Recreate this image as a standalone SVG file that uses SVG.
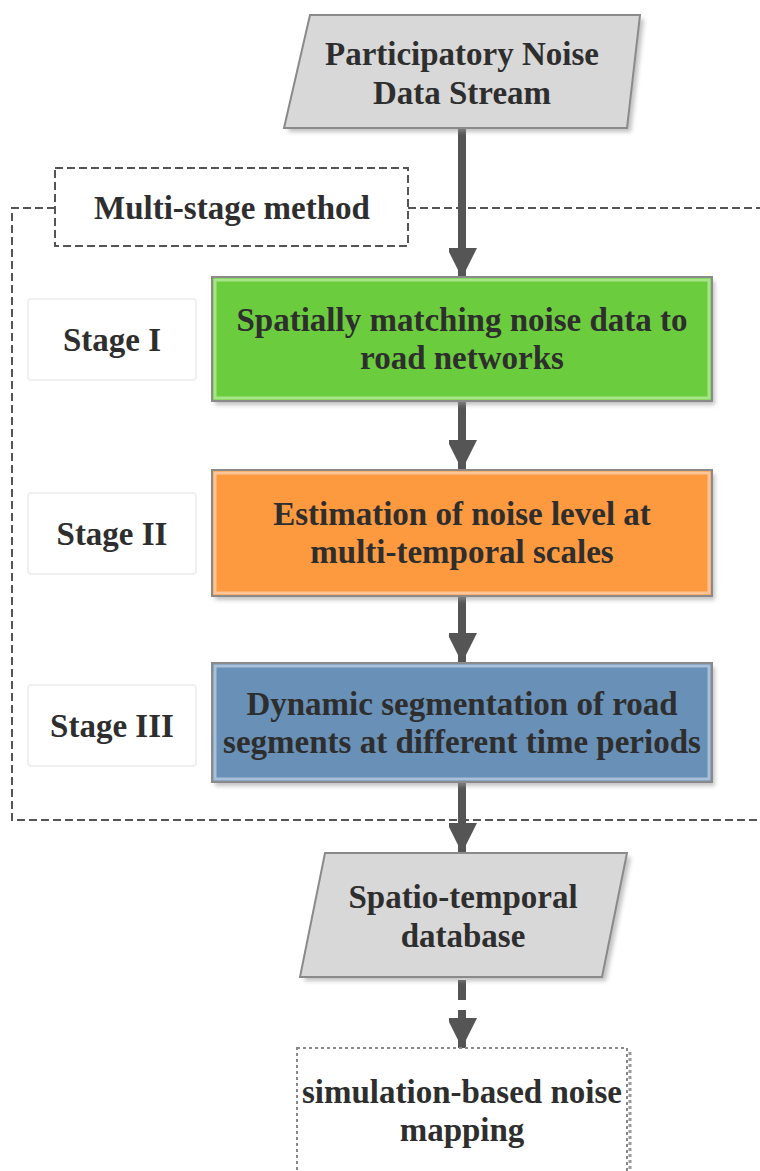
<svg xmlns="http://www.w3.org/2000/svg" width="760" height="1171" viewBox="0 0 760 1171">
<defs>
<style>
.t{font-family:"Liberation Serif","Times New Roman",serif;font-weight:bold;font-size:33px;fill:#2e2e2e;text-anchor:middle}
.conn{stroke:#555;stroke-width:8;fill:none}
.frame{stroke:#555;stroke-width:2;fill:none;stroke-dasharray:8,4}
.shadow{fill:#9a9a9a;opacity:0.6}
.stage{fill:#fff;stroke:#f0f0f0;stroke-width:2}
</style>
<marker id="ah" markerUnits="userSpaceOnUse" markerWidth="32" markerHeight="28" refX="30" refY="15" orient="auto">
<path d="M0,0 L30,15 L0,30 Z" fill="#555"/>
</marker>
<filter id="blur" x="-10%" y="-10%" width="120%" height="130%"><feGaussianBlur stdDeviation="2"/></filter>
</defs>

<g id="connectors">
<path class="frame" d="M55,208 H12 V820 H760 M408,208 H760"/>
<line class="conn" x1="462" y1="128" x2="462" y2="278" marker-end="url(#ah)"/>
<line class="conn" x1="462" y1="402" x2="462" y2="470" marker-end="url(#ah)"/>
<line class="conn" x1="462" y1="596" x2="462" y2="663" marker-end="url(#ah)"/>
<line class="conn" x1="462" y1="782" x2="462" y2="853" marker-end="url(#ah)"/>
<line class="conn" x1="462" y1="980" x2="462" y2="1048" stroke-dasharray="20,10" marker-end="url(#ah)"/>
</g>

<g id="input">
<polygon points="313,19 644,19 631,132 288,132" class="shadow" filter="url(#blur)"/>
<polygon points="310,15 640,15 627,128 284,128" fill="#d8d8d8" stroke="#8a8a8a" stroke-width="2"/>
<text class="t" x="462" y="65">Participatory Noise</text>
<text class="t" x="462" y="104">Data Stream</text>
</g>

<g id="method-label">
<rect x="55" y="168" width="353" height="78" fill="#fff" stroke="#555" stroke-width="2" stroke-dasharray="8,4"/>
<text class="t" x="232" y="219">Multi-stage method</text>
</g>

<g id="stage1-label">
<rect class="stage" x="28" y="299" width="168" height="81" rx="3"/>
<text class="t" x="112" y="351">Stage I</text>
</g>
<g id="stage2-label">
<rect class="stage" x="28" y="493" width="168" height="81" rx="3"/>
<text class="t" x="112" y="545">Stage II</text>
</g>
<g id="stage3-label">
<rect class="stage" x="28" y="685" width="168" height="81" rx="3"/>
<text class="t" x="112" y="737">Stage III</text>
</g>

<g id="stage1">
<rect x="215" y="281" width="500" height="124" class="shadow" filter="url(#blur)"/>
<rect x="212" y="277" width="500" height="124" fill="#6bcd3d" stroke="#8a8a8a" stroke-width="2"/>
<rect x="215" y="280" width="494" height="118" fill="none" stroke="#a8e58a" stroke-width="3"/>
<text class="t" x="462" y="331">Spatially matching noise data to</text>
<text class="t" x="462" y="369">road networks</text>
</g>

<g id="stage2">
<rect x="215" y="474" width="500" height="126" class="shadow" filter="url(#blur)"/>
<rect x="212" y="470" width="500" height="126" fill="#fd9a3f" stroke="#8a8a8a" stroke-width="2"/>
<rect x="215" y="473" width="494" height="120" fill="none" stroke="#fec59a" stroke-width="3"/>
<text class="t" x="462" y="525">Estimation of noise level at</text>
<text class="t" x="462" y="563">multi-temporal scales</text>
</g>

<g id="stage3">
<rect x="215" y="667" width="500" height="119" class="shadow" filter="url(#blur)"/>
<rect x="212" y="663" width="500" height="119" fill="#6990b6" stroke="#8a8a8a" stroke-width="2"/>
<rect x="215" y="666" width="494" height="113" fill="none" stroke="#a9c0d8" stroke-width="3"/>
<text class="t" x="462" y="715">Dynamic segmentation of road</text>
<text class="t" x="462" y="753">segments at different time periods</text>
</g>

<g id="database">
<polygon points="328,857 631,857 606,981 304,981" class="shadow" filter="url(#blur)"/>
<polygon points="325,853 627,853 602,977 300,977" fill="#d8d8d8" stroke="#8a8a8a" stroke-width="2"/>
<text class="t" x="463" y="908">Spatio-temporal</text>
<text class="t" x="463" y="947">database</text>
</g>

<g id="mapping">
<rect x="300" y="1052" width="330" height="130" fill="none" stroke="#999" stroke-width="3" stroke-dasharray="3,3"/>
<rect x="297" y="1048" width="330" height="130" fill="#fff" stroke="#888" stroke-width="2" stroke-dasharray="3,3"/>
<text class="t" x="462" y="1103">simulation-based noise</text>
<text class="t" x="462" y="1141">mapping</text>
</g>
</svg>
